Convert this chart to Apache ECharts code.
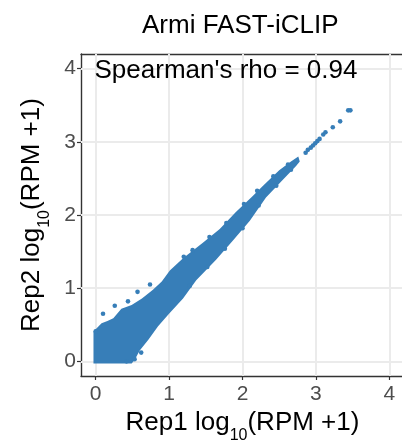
<!DOCTYPE html>
<html><head><meta charset="utf-8">
<script src="https://cdn.jsdelivr.net/npm/echarts@6/dist/echarts.min.js"></script>
<style>html,body{margin:0;padding:0;background:#fff}#c{width:402px;height:441px}</style>
</head><body><div id="c"></div>
<script>
const titleText = 'Armi FAST-iCLIP';
const annotationText = "Spearman's rho = 0.94";
const tickValues = [0, 1, 2, 3, 4];
const tickLabels = ['0', '1', '2', '3', '4'];

// outer envelope of the dense (overplotted) point cloud, [Rep1, Rep2]
const denseOutline = [
  [-0.03,-0.03],[-0.03,0.40],[0.00,0.44],[0.08,0.52],[0.16,0.55],[0.24,0.59],
  [0.35,0.72],[0.49,0.77],[0.63,0.86],[0.78,0.98],[0.90,1.09],[1.01,1.24],
  [1.19,1.41],[1.46,1.62],[1.69,1.81],[1.91,2.04],[2.14,2.26],[2.28,2.40],
  [2.50,2.61],[2.66,2.73],[2.76,2.80],
  [2.78,2.73],[2.73,2.67],[2.55,2.48],[2.32,2.24],[2.10,1.92],[1.87,1.65],
  [1.64,1.39],[1.37,1.11],[1.19,0.86],[0.99,0.64],[0.85,0.48],[0.72,0.30],
  [0.60,0.15],[0.53,0.02],[0.49,-0.03]
];

// individually visible points (outliers and edge points)
const rep1 = [0.00,0.10,0.26,0.44,0.57,0.74,0.53,0.42,0.62,
  1.20,1.32,1.55,1.78,2.02,2.20,2.42,2.62,
  1.28,1.52,1.76,2.00,2.22,2.46,2.66,
  2.86,2.89,2.93,2.96,2.99,3.02,3.05,
  3.10,3.13,3.23,3.33,3.44,3.47];
const rep2 = [0.41,0.65,0.76,0.82,0.95,1.05,0.03,0.00,0.12,
  1.43,1.52,1.70,1.89,2.15,2.33,2.53,2.69,
  1.03,1.29,1.54,1.82,2.13,2.40,2.62,
  2.85,2.89,2.92,2.95,2.98,3.01,3.04,
  3.10,3.13,3.20,3.28,3.43,3.43];

const pointColor = '#377EB8';
const FONT = "'Liberation Sans', Arial, Helvetica, sans-serif";
const pts = rep1.map((v, i) => [v, rep2[i]]);

const nameRich = {
  m: { fontSize: 26, lineHeight: 26, verticalAlign: 'top', color: '#000', fontFamily: FONT },
  s: { fontSize: 16, lineHeight: 16, verticalAlign: 'top', padding: [18, 0, 0, 0], color: '#000', fontFamily: FONT }
};

function axisCommon(nameStr, gap) {
  return {
    type: 'value', min: -0.2, max: 4.2,
    name: nameStr, nameLocation: 'middle', nameGap: gap,
    nameTextStyle: { rich: nameRich },
    axisLine: { show: true, onZero: false, lineStyle: { color: '#333333', width: 1.4 } },
    axisTick: { show: true, length: 4, customValues: tickValues, lineStyle: { color: '#333333', width: 1.2 } },
    axisLabel: { customValues: tickValues, formatter: v => tickLabels[tickValues.indexOf(Math.round(v))] ?? '',
      fontSize: 21, color: '#4D4D4D', fontFamily: FONT },
    splitLine: { show: false }
  };
}

const chart = echarts.init(document.getElementById('c'));
const xA = axisCommon('{m|Rep1 log}{s|10}{m|(RPM +1)}', 25);
xA.axisLabel.margin = 8;
const yA = axisCommon('{m|Rep2 log}{s|10}{m|(RPM +1)}', 36);
yA.axisLabel.margin = 5;
const xTop = { type: 'value', min: -0.2, max: 4.2, position: 'top',
  axisLine: { show: true, onZero: false, lineStyle: { color: '#333333', width: 1.4 } },
  axisTick: { show: false }, axisLabel: { show: false }, splitLine: { show: false } };

const gridLines = tickValues.map(v => ({ xAxis: v })).concat(tickValues.map(v => ({ yAxis: v })));

chart.setOption({
  animation: false,
  backgroundColor: '#fff',
  title: { text: titleText, left: 142, top: 13, padding: 0,
    textStyle: { fontSize: 26, fontWeight: 'normal', color: '#000', fontFamily: FONT, lineHeight: 26 } },
  grid: { left: 81, top: 54, width: 323, height: 322, outerBoundsMode: 'none', containLabel: false },
  xAxis: [xA, xTop],
  yAxis: yA,
  graphic: [{ type: 'text', left: 94.5, top: 58, z: 100,
    style: { text: annotationText, fontSize: 26, fill: '#000', fontFamily: FONT, lineHeight: 26 } }],
  series: [
    { type: 'line', data: [], z: 1, silent: true,
      markLine: { z: 1, silent: true, symbol: 'none', label: { show: false },
        lineStyle: { color: '#EBEBEB', width: 2, type: 'solid' }, emphasis: { disabled: true },
        data: gridLines } },
    { type: 'custom', data: [[0, 0]], clip: true, silent: true, z: 6,
      renderItem: (params, api) => ({ type: 'polygon',
        shape: { points: denseOutline.map(p => api.coord(p)) },
        style: { fill: pointColor } }) },
    { type: 'scatter', data: pts, symbolSize: 4.6, z: 7, itemStyle: { color: pointColor, opacity: 1 }, silent: true }
  ]
});
</script></body></html>
